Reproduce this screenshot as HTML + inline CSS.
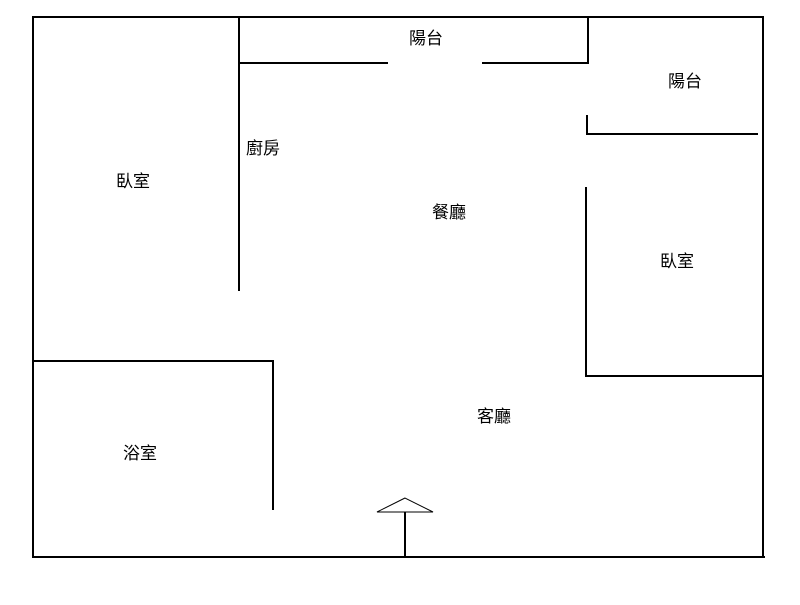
<!DOCTYPE html>
<html><head><meta charset="utf-8"><style>
html,body{margin:0;padding:0;background:#fff;}
text{font-family:"Liberation Sans","Noto Sans CJK TC",sans-serif;font-size:17px;fill:#000;}
</style></head><body>
<svg width="800" height="600" xmlns="http://www.w3.org/2000/svg">
<g stroke="#000" stroke-width="2" fill="none">
<line x1="32" y1="17" x2="764" y2="17"/>
<line x1="33" y1="16" x2="33" y2="558"/>
<line x1="763" y1="16" x2="763" y2="558"/>
<line x1="32" y1="557" x2="765" y2="557"/>
<line x1="239" y1="17" x2="239" y2="291"/>
<line x1="239" y1="63" x2="388" y2="63"/>
<line x1="482" y1="63" x2="589" y2="63"/>
<line x1="588" y1="17" x2="588" y2="63"/>
<line x1="587" y1="115" x2="587" y2="135"/>
<line x1="587" y1="134" x2="758" y2="134"/>
<line x1="586" y1="187" x2="586" y2="377"/>
<line x1="586" y1="376" x2="763" y2="376"/>
<line x1="33" y1="361" x2="274" y2="361"/>
<line x1="273" y1="361" x2="273" y2="510"/>
<line x1="405" y1="512" x2="405" y2="557"/>
<polygon points="405,498 377,512 433,512" stroke-width="1"/>
</g>
<text x="409" y="44">陽台</text>
<text x="668" y="87">陽台</text>
<text x="246" y="154">廚房</text>
<text x="116" y="187">臥室</text>
<text x="432" y="218">餐廳</text>
<text x="660" y="267">臥室</text>
<text x="477" y="422">客廳</text>
<text x="123" y="459">浴室</text>
</svg>
</body></html>
